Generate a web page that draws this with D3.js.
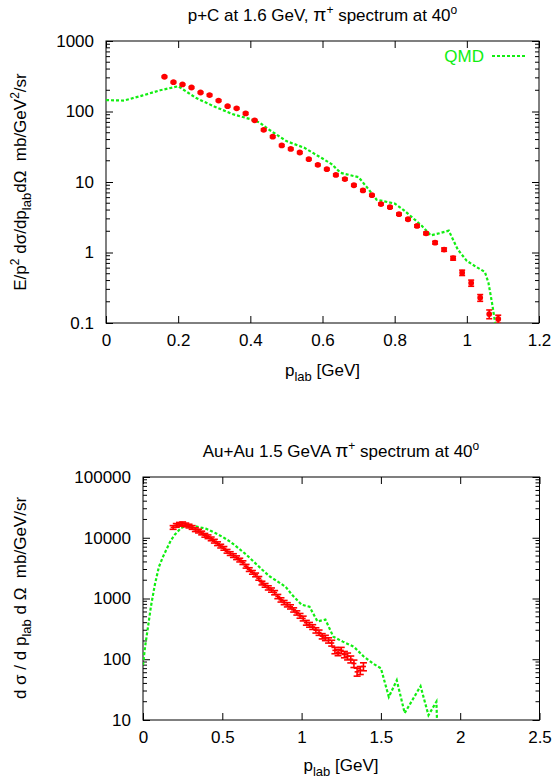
<!DOCTYPE html>
<html><head><meta charset="utf-8">
<script src="https://cdn.jsdelivr.net/npm/d3@7"></script>
<style>
body{margin:0;background:#fff}
svg text{font-family:"Liberation Sans",Arial,Helvetica,sans-serif;white-space:pre}
</style>
</head><body>
<svg id="c" width="553" height="783"></svg>
<script>
// ---------- top panel: p+C ----------
const topP = [0.162,0.187,0.212,0.237,0.262,0.287,0.312,0.337,0.362,0.387,0.412,0.437,0.462,0.487,0.512,0.537,0.562,0.587,0.612,0.637,0.662,0.687,0.712,0.737,0.762,0.787,0.812,0.837,0.862,0.887,0.912,0.937,0.962,0.987,1.012,1.037,1.062,1.087];
const topV = [311,261,242,219,186,171,143,119,111,94,75,55,44,33,29.5,26.2,21.1,17.5,15.2,12.6,11.0,9.0,7.6,6.5,4.87,4.39,3.5,2.96,2.38,1.87,1.38,1.10,0.83,0.517,0.369,0.228,0.134,0.114];
const topErr = [8,7,6,6,5,5,4,3,3,3,2,1.6,1.3,1,0.9,0.8,0.6,0.5,0.45,0.4,0.35,0.3,0.25,0.2,0.15,0.14,0.12,0.1,0.09,0.08,0.06,0.06,0.05,0.045,0.037,0.025,0.019,0.015];
const topQmdP = [0,0.05,0.1,0.15,0.2,0.25,0.3,0.35,0.4,0.425,0.45,0.5,0.55,0.6,0.625,0.65,0.7,0.725,0.75,0.8,0.825,0.85,0.875,0.9,0.925,0.95,0.975,1.0,1.025,1.05,1.06,1.07,1.08];
const topQmdV = [145,143,168,200,228,155,118,92,78,70,56,38,30.5,21.5,18,13.5,11.7,8.2,5.6,4.95,4.0,3.1,2.4,1.75,1.88,2.04,1.1,0.76,0.63,0.53,0.37,0.19,0.09];
const topXTicks = [0,0.2,0.4,0.6,0.8,1,1.2];
const topYTicks = [0.1,1,10,100,1000];

// ---------- bottom panel: Au+Au ----------
const botP = [0.19,0.21,0.23,0.25,0.27,0.29,0.31,0.33,0.35,0.37,0.39,0.41,0.43,0.45,0.47,0.49,0.51,0.53,0.55,0.57,0.59,0.61,0.63,0.65,0.67,0.69,0.71,0.73,0.75,0.77,0.79,0.81,0.83,0.85,0.87,0.89,0.91,0.93,0.95,0.97,0.99,1.01,1.03,1.05,1.07,1.09,1.11,1.13,1.15,1.17,1.19,1.21,1.23,1.25,1.27,1.29,1.31,1.33,1.35,1.37,1.39];
const botV = [14800,16000,16700,17000,16300,15600,14800,13600,12900,12000,11000,10400,9600,8800,8000,7300,6700,6000,5500,5100,4700,4300,3900,3400,3000,2700,2450,2150,1800,1650,1500,1380,1250,1080,950,860,790,730,650,580,520,470,400,370,340,300,275,240,225,205,185,140,130,140,120,112,100,85,62,66,76];
const botErrRel = [0.07,0.07,0.07,0.07,0.07,0.07,0.07,0.07,0.07,0.07,0.07,0.07,0.07,0.07,0.07,0.07,0.07,0.07,0.07,0.07,0.07,0.07,0.07,0.07,0.07,0.07,0.07,0.07,0.07,0.07,0.08,0.08,0.08,0.08,0.08,0.08,0.08,0.08,0.08,0.08,0.09,0.09,0.09,0.09,0.09,0.1,0.1,0.1,0.1,0.1,0.11,0.12,0.12,0.12,0.12,0.13,0.13,0.14,0.15,0.15,0.15];
const botQmdP = [0,0.013,0.03,0.05,0.075,0.1,0.125,0.15,0.175,0.2,0.24,0.28,0.33,0.4,0.45,0.5,0.55,0.6,0.65,0.7,0.75,0.8,0.85,0.9,0.94,1.0,1.05,1.1,1.15,1.2,1.26,1.33,1.39,1.45,1.5,1.55,1.6,1.65,1.75,1.8,1.85,1.855];
const botQmdV = [80,160,320,740,1700,3300,4800,6600,9000,11200,14500,16000,15500,14000,12200,10400,8600,6800,5300,4000,3000,2300,1900,1550,1150,790,730,420,450,235,195,160,112,85,71,24,45,13,36,12,20,8];
const botXTicks = [0,0.5,1,1.5,2,2.5];
const botYTicks = [10,100,1000,10000,100000];

const RED = "#ff0000", GREEN = "#11ee11";
const FS = 17;
const svg = d3.select("#c");

function panel(cfg) {
  const x = d3.scaleLinear().domain([cfg.xTicks[0], cfg.xTicks[cfg.xTicks.length-1]]).range([cfg.L, cfg.R]);
  const y = d3.scaleLog().domain([cfg.yTicks[0], cfg.yTicks[cfg.yTicks.length-1]]).range([cfg.B, cfg.T]);
  const g = svg.append("g");
  svg.append("clipPath").attr("id", cfg.id).append("rect")
    .attr("x", cfg.L).attr("y", cfg.T).attr("width", cfg.R - cfg.L).attr("height", cfg.B - cfg.T);
  const fmt = d3.format("~g");
  const style = sel => {
    sel.select(".domain").remove();
    sel.selectAll("text").attr("font-size", FS).attr("fill", "#000");
    sel.selectAll("line").attr("stroke", "#000");
  };
  g.append("g").attr("transform", `translate(0,${cfg.B})`)
    .call(d3.axisBottom(x).tickValues(cfg.xTicks).tickSize(-7).tickPadding(11).tickFormat(fmt)).call(style);
  g.append("g").attr("transform", `translate(0,${cfg.T})`)
    .call(d3.axisTop(x).tickValues(cfg.xTicks).tickSize(-7).tickFormat("")).call(style);
  g.append("g").attr("transform", `translate(${cfg.L},0)`)
    .call(d3.axisLeft(y).tickValues(cfg.yTicks).tickSize(-7).tickPadding(12).tickFormat(fmt)).call(style);
  g.append("g").attr("transform", `translate(${cfg.R},0)`)
    .call(d3.axisRight(y).tickValues(cfg.yTicks).tickSize(-7).tickFormat("")).call(style);
  const minors = [];
  cfg.yTicks.slice(0, -1).forEach(d => { for (let m = 2; m <= 9; m++) minors.push(d * m); });
  g.append("g").selectAll("line").data(minors).join("line")
    .attr("x1", cfg.L).attr("x2", cfg.L + 4).attr("y1", d => y(d)).attr("y2", d => y(d)).attr("stroke", "#000");
  g.append("g").selectAll("line").data(minors).join("line")
    .attr("x1", cfg.R).attr("x2", cfg.R - 4).attr("y1", d => y(d)).attr("y2", d => y(d)).attr("stroke", "#000");
  g.append("rect").attr("x", cfg.L).attr("y", cfg.T).attr("width", cfg.R - cfg.L).attr("height", cfg.B - cfg.T)
    .attr("fill", "none").attr("stroke", "#000").attr("stroke-width", 1);

  const qmd = cfg.qP.map((p, i) => [p, cfg.qV[i]]);
  g.append("path").datum(qmd).attr("clip-path", `url(#${cfg.id})`)
    .attr("d", d3.line().x(d => x(d[0])).y(d => y(d[1])))
    .attr("fill", "none").attr("stroke", GREEN).attr("stroke-width", 2.2).attr("stroke-dasharray", "3,2");

  const pts = cfg.dP.map((p, i) => ({p, v: cfg.dV[i], e: cfg.dE[i]}));
  const pg = g.append("g").attr("clip-path", `url(#${cfg.id})`);
  const cw = cfg.cap;
  pts.forEach(d => {
    const cx = x(d.p), y1 = y(d.v + d.e), y2 = y(Math.max(d.v - d.e, 1e-6));
    pg.append("line").attr("x1", cx).attr("x2", cx).attr("y1", y1).attr("y2", y2).attr("stroke", RED).attr("stroke-width", 1.6);
    pg.append("line").attr("x1", cx - cw).attr("x2", cx + cw).attr("y1", y1).attr("y2", y1).attr("stroke", RED).attr("stroke-width", 1.6);
    pg.append("line").attr("x1", cx - cw).attr("x2", cx + cw).attr("y1", y2).attr("y2", y2).attr("stroke", RED).attr("stroke-width", 1.6);
    if (cfg.dotR > 0) pg.append("circle").attr("cx", cx).attr("cy", y(d.v)).attr("r", cfg.dotR).attr("fill", RED);
    else pg.append("line").attr("x1", cx - 2.5).attr("x2", cx + 2.5).attr("y1", y(d.v)).attr("y2", y(d.v)).attr("stroke", RED).attr("stroke-width", 1.6);
  });
  return {x, y, g};
}

const topPanel = panel({id: "clipTop", L: 106, R: 539, T: 41, B: 323, xTicks: topXTicks, yTicks: topYTicks,
  qP: topQmdP, qV: topQmdV, dP: topP, dV: topV, dE: topErr, cap: 3, dotR: 2.9});
const botPanel = panel({id: "clipBot", L: 143, R: 539.5, T: 477, B: 720, xTicks: botXTicks, yTicks: botYTicks,
  qP: botQmdP, qV: botQmdV, dP: botP, dV: botV, dE: botV.map((v, i) => v * botErrRel[i]), cap: 3.5, dotR: 0});

function richText(sel, parts) {
  parts.forEach(pt => {
    const s = sel.append("tspan").text(pt.t);
    if (pt.dy) s.attr("dy", pt.dy);
    if (pt.fs) s.attr("font-size", pt.fs);
  });
}
function title(xc, yb, parts) {
  const t = svg.append("text").attr("x", xc).attr("y", yb).attr("text-anchor", "middle").attr("font-size", FS).attr("fill", "#000");
  richText(t, parts);
}
title(322.5, 21, [{t: "p+C at 1.6 GeV, "}, {t: "\u03c0", fs: 19}, {t: "+", dy: -7, fs: 12}, {t: " spectrum at 40", dy: 7}, {t: "o", dy: -7, fs: 12}]);
title(341, 457, [{t: "Au+Au 1.5 GeVA "}, {t: "\u03c0", fs: 19}, {t: "+", dy: -7, fs: 12}, {t: " spectrum at 40", dy: 7}, {t: "o", dy: -7, fs: 12}]);

function xlabel(xc, yb) {
  const t = svg.append("text").attr("x", xc).attr("y", yb).attr("text-anchor", "middle").attr("font-size", FS).attr("fill", "#000");
  richText(t, [{t: "p"}, {t: "lab", dy: 5, fs: 13}, {t: " [GeV]", dy: -5}]);
}
xlabel(322.5, 376);
xlabel(341, 771);

function ylabel(xc, yc, parts) {
  const t = svg.append("text").attr("transform", `translate(${xc},${yc}) rotate(-90)`).attr("text-anchor", "middle")
    .attr("font-size", FS).attr("fill", "#000");
  richText(t, parts);
}
ylabel(26, 182, [{t: "E/p"}, {t: "2", dy: -7, fs: 12}, {t: " d\u03c3/dp", dy: 7}, {t: "lab", dy: 5, fs: 13}, {t: "d\u03a9  mb/GeV", dy: -5}, {t: "2", dy: -7, fs: 12}, {t: "/sr", dy: 7}]);
ylabel(26, 598, [{t: "d \u03c3 / d p"}, {t: "lab", dy: 5, fs: 13}, {t: " d \u03a9  mb/GeV/sr", dy: -5}]);

svg.append("text").attr("x", 484).attr("y", 62).attr("text-anchor", "end").attr("font-size", FS).attr("fill", GREEN).text("QMD");
svg.append("line").attr("x1", 492).attr("x2", 526).attr("y1", 56).attr("y2", 56)
  .attr("stroke", GREEN).attr("stroke-width", 2.2).attr("stroke-dasharray", "3,2");
</script>
</body></html>
